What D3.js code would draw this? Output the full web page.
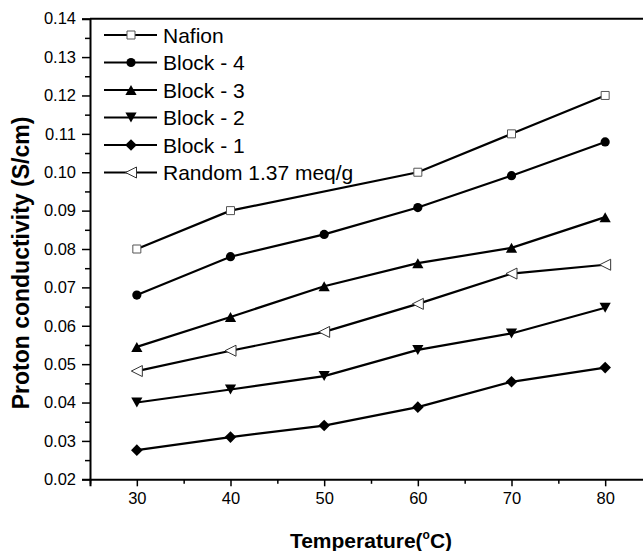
<!DOCTYPE html>
<meta charset="utf-8">
<html>
<head>
  <title>Proton conductivity</title>
  <script src="https://d3js.org/d3.v7.min.js"></script>
  <style>
    body { margin: 0; background: #fff; }
    text { font-family: Arial, "Liberation Sans", Helvetica, sans-serif; fill: #000; }
  </style>
</head>
<body>
  <div id="chart"></div>
<script>
  // values
  var temps = [30, 40, 50, 60, 70, 80];
  var nafionTemps = [30, 40, 60, 70, 80];
  var nafion = [0.080, 0.090, 0.100, 0.110, 0.120];
  var block4 = [0.0680, 0.0780, 0.0838, 0.0908, 0.0991, 0.1079];
  var block3 = [0.0545, 0.0623, 0.0703, 0.0763, 0.0803, 0.0883];
  var block2 = [0.0400, 0.0434, 0.0469, 0.0537, 0.0580, 0.0647];
  var block1 = [0.0276, 0.0310, 0.0340, 0.0388, 0.0454, 0.0491];
  var random = [0.0482, 0.0535, 0.0584, 0.0657, 0.0736, 0.0759];
  var seriesNames = ["Nafion", "Block - 4", "Block - 3", "Block - 2", "Block - 1", "Random 1.37 meq/g"];
  var yTicks = [0.02, 0.03, 0.04, 0.05, 0.06, 0.07, 0.08, 0.09, 0.10, 0.11, 0.12, 0.13, 0.14];
  var xTicks = [30, 40, 50, 60, 70, 80];

  var W = 643, H = 551;
  var svg = d3.select("#chart").append("svg")
    .attr("width", W).attr("height", H);

  var x = d3.scaleLinear().domain([25, 85]).range([90, 652]);
  var y = d3.scaleLinear().domain([0.02, 0.14]).range([479.3, 18.7]);

  // marker shapes
  var shapes = {
    square: { d: "M-4,-4H4V4H-4Z", fill: "#fff", stroke: "#555", sw: 1 },
    circle: { d: "M-4.6,0A4.6,4.6 0 1,0 4.6,0A4.6,4.6 0 1,0 -4.6,0Z", fill: "#000", stroke: "none", sw: 0 },
    up: { d: "M0,-5L5.6,5H-5.6Z", fill: "#000", stroke: "none", sw: 0 },
    down: { d: "M0,5L5.6,-5H-5.6Z", fill: "#000", stroke: "none", sw: 0 },
    diamond: { d: "M0,-5.8L5.8,0L0,5.8L-5.8,0Z", fill: "#000", stroke: "none", sw: 0 },
    left: { d: "M-5.5,0L5.5,-5.5V5.5Z", fill: "#fff", stroke: "#333", sw: 1 }
  };

  var series = [
    { name: seriesNames[0], xs: nafionTemps, ys: nafion, shape: "square" },
    { name: seriesNames[1], xs: temps, ys: block4, shape: "circle" },
    { name: seriesNames[2], xs: temps, ys: block3, shape: "up" },
    { name: seriesNames[3], xs: temps, ys: block2, shape: "down" },
    { name: seriesNames[4], xs: temps, ys: block1, shape: "diamond" },
    { name: seriesNames[5], xs: temps, ys: random, shape: "left" }
  ];

  // axes
  var yAxis = svg.append("g").attr("transform", "translate(90,0)")
    .call(d3.axisLeft(y).tickValues(yTicks).tickFormat(d3.format(".2f")).tickSize(8).tickPadding(6));
  var yMinor = svg.append("g").attr("transform", "translate(90,0)")
    .call(d3.axisLeft(y).tickValues(d3.range(0.025, 0.14, 0.01)).tickFormat("").tickSize(5));
  var xAxis = svg.append("g").attr("transform", "translate(0,479.3)")
    .call(d3.axisBottom(x).tickValues(xTicks).tickSize(7).tickPadding(6));
  var xMinor = svg.append("g").attr("transform", "translate(0,479.3)")
    .call(d3.axisBottom(x).tickValues([25, 35, 45, 55, 65, 75, 85]).tickFormat("").tickSize(4.5));

  svg.selectAll(".domain").attr("stroke", "#000").attr("stroke-width", 2);
  svg.selectAll(".tick line").attr("stroke", "#000").attr("stroke-width", 1.5);
  yAxis.selectAll("text").style("font-size", "16.5px").style("font-family", "Arial, 'Liberation Sans', sans-serif");
  xAxis.selectAll("text").style("font-size", "16.5px").style("font-family", "Arial, 'Liberation Sans', sans-serif");
  xMinor.select(".domain").remove();
  yMinor.select(".domain").remove();

  // top frame line
  svg.append("line")
    .attr("x1", x(25)).attr("x2", x(85))
    .attr("y1", y(0.14)).attr("y2", y(0.14))
    .attr("stroke", "#000").attr("stroke-width", 2);

  // lines and markers
  var line = d3.line().x(function (d) { return x(d[0]); }).y(function (d) { return y(d[1]); });
  series.forEach(function (s) {
    var pts = s.xs.map(function (t, i) { return [t, s.ys[i]]; });
    svg.append("path").datum(pts)
      .attr("d", line).attr("fill", "none")
      .attr("stroke", "#000").attr("stroke-width", 2.2);
    var sh = shapes[s.shape];
    svg.selectAll(null).data(pts).enter().append("path")
      .attr("d", sh.d)
      .attr("transform", function (d) { return "translate(" + x(d[0]) + "," + y(d[1]) + ")"; })
      .attr("fill", sh.fill).attr("stroke", sh.stroke).attr("stroke-width", sh.sw);
  });

  // legend
  var legend = svg.append("g");
  series.forEach(function (s, i) {
    var ry = 35 + i * 27.5;
    legend.append("line").attr("x1", 104).attr("x2", 157).attr("y1", ry).attr("y2", ry)
      .attr("stroke", "#000").attr("stroke-width", 2.2);
    var sh = shapes[s.shape];
    legend.append("path").attr("d", sh.d)
      .attr("transform", "translate(131," + ry + ")")
      .attr("fill", sh.fill).attr("stroke", sh.stroke).attr("stroke-width", sh.sw);
    legend.append("text").attr("x", 163).attr("y", ry).attr("dy", "0.36em")
      .style("font-size", "21px").text(s.name);
  });

  // axis titles
  var xt = svg.append("text")
    .attr("x", 371).attr("y", 548)
    .attr("text-anchor", "middle")
    .style("font-size", "21px").style("font-weight", "bold");
  xt.append("tspan").text("Temperature(");
  xt.append("tspan").attr("dy", "-9px").style("font-size", "12px").text("o");
  xt.append("tspan").attr("dy", "9px").text("C)");

  svg.append("text")
    .attr("transform", "translate(29,263) rotate(-90)")
    .attr("text-anchor", "middle")
    .style("font-size", "23px").style("font-weight", "bold")
    .text("Proton conductivity (S/cm)");
</script>
</body>
</html>
